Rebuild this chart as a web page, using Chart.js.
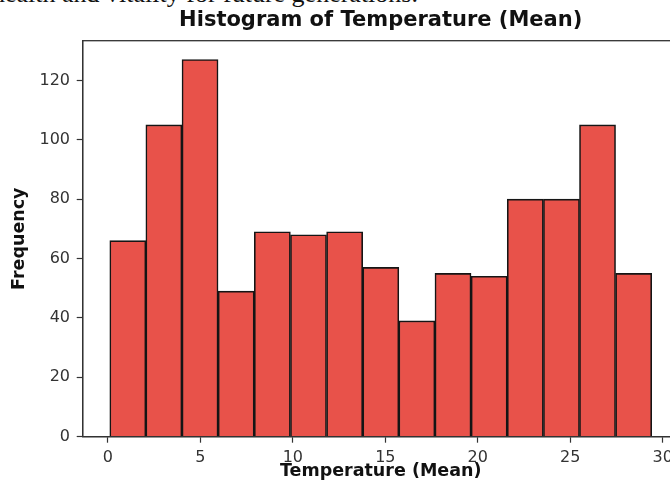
<!DOCTYPE html>
<html>
<head>
<meta charset="utf-8">
<script src="https://cdn.jsdelivr.net/npm/chart.js@4/dist/chart.umd.min.js"></script>
<style>
  html, body { margin: 0; padding: 0; background: #fff; overflow: hidden; width: 670px; height: 491px; }
  #wrap { position: absolute; left: 0; top: 0; width: 680px; height: 491px; }
  #above { position: absolute; top: -19.5px; left: 0; font-family: "Liberation Serif", serif; font-size: 26px; line-height: 1; color: #111; white-space: nowrap; }
</style>
</head>
<body>
<div id="above">health and vitality for future generations.</div>
<div id="wrap"><canvas id="c" width="680" height="491"></canvas></div>
<script>
// ---- data ----
const binEdges = [0.1, 2.05, 4.0, 5.96, 7.91, 9.87, 11.82, 13.78, 15.73, 17.68, 19.64, 21.59, 23.55, 25.5, 27.45, 29.41];
const counts   = [66, 105, 127, 49, 69, 68, 69, 57, 39, 55, 54, 80, 80, 105, 55];
const xTicks   = [0, 5, 10, 15, 20, 25, 30];
const yTicks   = [0, 20, 40, 60, 80, 100, 120];
const titleText = 'Histogram of Temperature (Mean)';
const xLabel = 'Temperature (Mean)';
const yLabel = 'Frequency';

// align the clipped line of text above
(function(){
  const el = document.getElementById('above');
  el.style.left = (418 - el.offsetWidth) + 'px';
})();

const points = counts.map((c, i) => ({ x: (binEdges[i] + binEdges[i + 1]) / 2, y: c }));

const frame = {
  id: 'frame',
  afterDatasetsDraw(chart) {
    const a = chart.chartArea, ctx = chart.ctx;
    ctx.save();
    ctx.strokeStyle = '#333';
    ctx.lineWidth = 1.3;
    ctx.strokeRect(a.left, a.top, a.right - a.left, a.bottom - a.top);
    ctx.restore();
  }
};

const tickFont = { family: 'DejaVu Sans', size: 16 };
const boldFont = { family: 'DejaVu Sans', size: 17.5, weight: 'bold', lineHeight: 1.2 };

new Chart(document.getElementById('c'), {
  type: 'bar',
  data: {
    datasets: [{
      data: points,
      backgroundColor: '#e8524a',
      borderColor: '#151515',
      borderWidth: 1.6,
      barPercentage: 1,
      categoryPercentage: 1,
      grouped: false
    }]
  },
  options: {
    responsive: false,
    animation: false,
    devicePixelRatio: 1,
    layout: { padding: { left: 0, right: 1.3, top: 0, bottom: 0 } },
    plugins: {
      legend: { display: false },
      tooltip: { enabled: false },
      title: {
        display: true,
        text: titleText,
        fullSize: false,
        color: '#111',
        font: { family: 'DejaVu Sans', size: 21, weight: 'bold', lineHeight: 1.2 },
        padding: { top: 8.4, bottom: 7.1 }
      }
    },
    scales: {
      x: {
        type: 'linear',
        min: -1.365,
        max: 30.865,
        offset: false,
        afterFit(s) { s.height = 54.3; },
        afterBuildTicks(s) { s.ticks = xTicks.map(v => ({ value: v })); },
        ticks: { font: tickFont, color: '#333', padding: 6, maxRotation: 0, autoSkip: false },
        grid: { display: true, offset: false, drawOnChartArea: false, drawTicks: true, tickLength: 6, tickColor: '#333', tickWidth: 1.2 },
        border: { display: true, color: '#333', width: 1.3 },
        title: { display: true, text: xLabel, color: '#111', font: boldFont, padding: { top: 0, bottom: 9 } }
      },
      y: {
        type: 'linear',
        min: 0,
        max: 133.35,
        afterFit(s) { s.width = 82.7; },
        afterBuildTicks(s) { s.ticks = yTicks.map(v => ({ value: v })); },
        ticks: { font: tickFont, color: '#333', padding: 6.7 },
        grid: { display: true, offset: false, drawOnChartArea: false, drawTicks: true, tickLength: 6, tickColor: '#333', tickWidth: 1.2 },
        border: { display: true, color: '#333', width: 1.3 },
        title: { display: true, text: yLabel, color: '#111', font: boldFont, padding: { top: 8.5, bottom: 0 } }
      }
    }
  },
  plugins: [frame]
});
</script>
</body>
</html>
